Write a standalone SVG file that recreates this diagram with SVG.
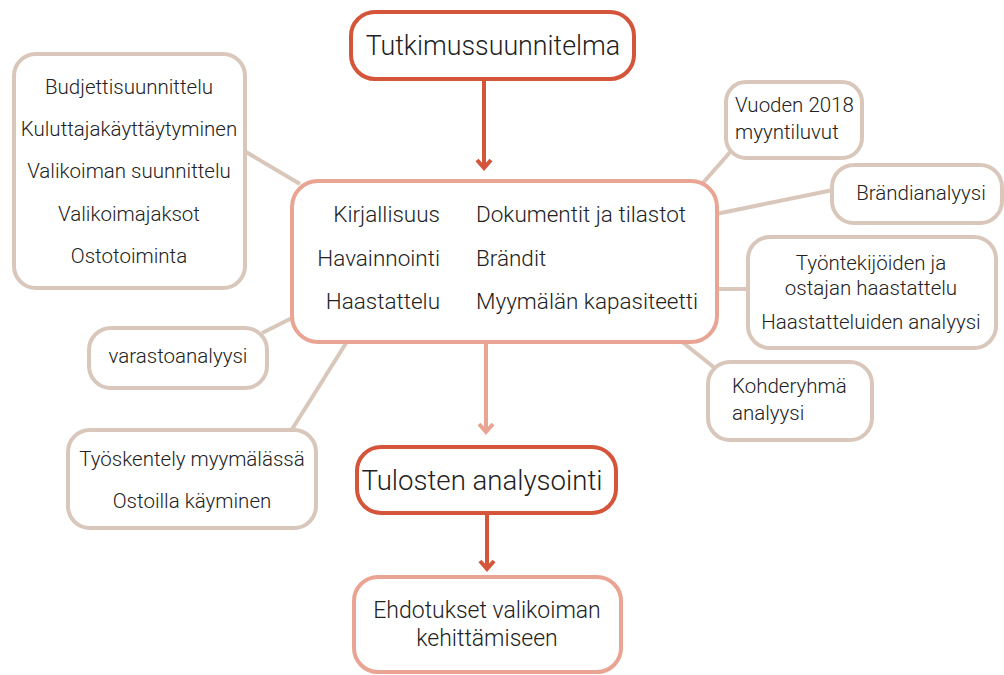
<svg xmlns="http://www.w3.org/2000/svg" width="1004" height="675" viewBox="0 0 1004 675">
  <defs>
    <style>
      text { font-family: Roboto, "Liberation Sans", sans-serif; font-weight: 300; fill: #222; }
      .box { fill: #fff; stroke-width: 4; }
      .main { stroke: #d4553a; }
      .mid { stroke: #e9a493; }
      .side { stroke: #d9c7bb; }
      .link { stroke: #d9c7bb; stroke-width: 4; fill: none; }
      .c { text-anchor: middle; }
      .r { text-anchor: end; }
      .s18 { font-size: 20.5px; }
      .s20 { font-size: 22.5px; }
      .redline { stroke: #d4553a; stroke-width: 4; fill: none; }
      .salline { stroke: #e9a493; stroke-width: 4; fill: none; }
    </style>
  </defs>

  <!-- connectors -->
  <g id="connectors">
    <line class="link" x1="246" y1="152" x2="300" y2="184"/>
    <line class="link" x1="262" y1="333" x2="294" y2="317"/>
    <line class="link" x1="291" y1="431" x2="348" y2="340"/>
    <line class="link" x1="732" y1="150" x2="702" y2="184"/>
    <line class="link" x1="833" y1="190" x2="716" y2="214"/>
    <line class="link" x1="716" y1="289" x2="748" y2="289"/>
    <line class="link" x1="681" y1="341" x2="716" y2="369"/>
    <line class="redline" x1="484" y1="80" x2="484" y2="169"/>
    <path class="redline" d="M477,160 L484,168 L491,160" stroke-width="3.5"/>
    <line class="salline" x1="486" y1="343" x2="486" y2="432"/>
    <path class="salline" d="M479,424 L486,432 L493,424" stroke-width="3.5"/>
    <line class="redline" x1="487" y1="514" x2="487" y2="569"/>
    <path class="redline" d="M480,561 L487,569 L494,561" stroke-width="3.5"/>
  </g>

  <!-- main flow -->
  <g id="n-plan">
    <rect class="box main" x="351" y="12" width="283" height="67" rx="24"/>
    <text x="493" y="55" class="c" font-size="26.8">Tutkimussuunnitelma</text>
  </g>

  <g id="n-methods">
    <rect class="box mid" x="292" y="181" width="425" height="161" rx="26"/>
    <text x="440" y="222" class="r s20">Kirjallisuus</text>
    <text x="440" y="266" class="r s20">Havainnointi</text>
    <text x="440" y="309" class="r s20">Haastattelu</text>
    <text x="476" y="222" class="s20">Dokumentit ja tilastot</text>
    <text x="476" y="266" class="s20">Brändit</text>
    <text x="476" y="309" class="s20">Myymälän kapasiteetti</text>
  </g>

  <g id="n-results">
    <rect class="box main" x="357" y="447" width="259" height="66" rx="24"/>
    <text x="482" y="490" class="c" font-size="27.6">Tulosten analysointi</text>
  </g>

  <g id="n-proposals">
    <rect class="box mid" x="354" y="577" width="267" height="95" rx="24"/>
    <text x="487" y="618" class="c" font-size="23">Ehdotukset valikoiman</text>
    <text x="487" y="646" class="c" font-size="23">kehittämiseen</text>
  </g>

  <!-- side topics -->
  <g id="n-theory">
    <rect class="box side" x="14" y="54" width="231" height="234" rx="22"/>
    <text x="129" y="94" class="c s18">Budjettisuunnittelu</text>
    <text x="129" y="136" class="c s18">Kuluttajakäyttäytyminen</text>
    <text x="129" y="178" class="c s18">Valikoiman suunnittelu</text>
    <text x="129" y="221" class="c s18">Valikoimajaksot</text>
    <text x="129" y="263" class="c s18">Ostotoiminta</text>
  </g>

  <g id="n-stock">
    <rect class="box side" x="89" y="328" width="178" height="60" rx="22"/>
    <text x="178" y="363" class="c s18">varastoanalyysi</text>
  </g>

  <g id="n-store">
    <rect class="box side" x="68" y="430" width="248" height="98" rx="22"/>
    <text x="192" y="466" class="c s18">Työskentely myymälässä</text>
    <text x="192" y="508" class="c s18">Ostoilla käyminen</text>
  </g>

  <g id="n-sales">
    <rect class="box side" x="726" y="82" width="136" height="76" rx="20"/>
    <text x="735" y="112" class="s18">Vuoden 2018</text>
    <text x="735" y="139" class="s18">myyntiluvut</text>
  </g>

  <g id="n-brand">
    <rect class="box side" x="832" y="165" width="170" height="58" rx="22"/>
    <text x="921" y="200" class="c s18">Brändianalyysi</text>
  </g>

  <g id="n-interviews">
    <rect class="box side" x="748" y="237" width="248" height="111" rx="22"/>
    <text x="871" y="270" class="c s18">Työntekijöiden ja</text>
    <text x="871" y="295" class="c s18">ostajan haastattelu</text>
    <text x="871" y="329" class="c s18">Haastatteluiden analyysi</text>
  </g>

  <g id="n-target">
    <rect class="box side" x="708" y="362" width="164" height="78" rx="22"/>
    <text x="732" y="393" class="s18">Kohderyhmä</text>
    <text x="732" y="420" class="s18">analyysi</text>
  </g>
</svg>
